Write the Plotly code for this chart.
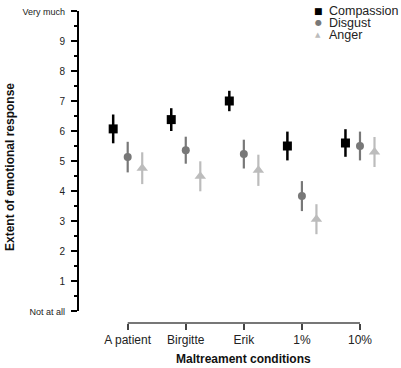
import plotly.graph_objects as go

categories = ["A patient", "Birgitte", "Erik", "1%", "10%"]
series_names = ["Compassion", "Disgust", "Anger"]
compassion = [6.07, 6.38, 7.00, 5.50, 5.60]
compassion_err = [0.48, 0.38, 0.34, 0.48, 0.46]
disgust = [5.13, 5.36, 5.23, 3.83, 5.50]
disgust_err = [0.51, 0.45, 0.48, 0.50, 0.48]
anger = [4.76, 4.49, 4.69, 3.06, 5.30]
anger_err = [0.53, 0.50, 0.52, 0.50, 0.50]
y_tickvals = [0, 1, 2, 3, 4, 5, 6, 7, 8, 9, 10]
y_ticktext = ['<span style="font-size:9px">Not at all</span>', "1", "2", "3", "4", "5",
              "6", "7", "8", "9", '<span style="font-size:9px">Very much</span>']

W, H = 401, 368
ML, MR, MT, MB = 78, 6, 8, 45
PW, PH = W - ML - MR, H - MT - MB

values = [compassion, disgust, anger]
errors = [compassion_err, disgust_err, anger_err]
colors = ["#000000", "#787878", "#bcbcbc"]
symbols = ["square", "circle", "triangle-up"]
sizes = [9, 8, 10]
thick = [2.5, 2.2, 2.2]
offsets = [-0.25, 0.0, 0.25]

fig = go.Figure()
for i in range(3):
    fig.add_trace(go.Scatter(
        x=[k + offsets[i] for k in range(len(categories))],
        y=values[i],
        mode="markers",
        name=series_names[i],
        marker=dict(symbol=symbols[i], size=sizes[i], color=colors[i], line=dict(width=0)),
        error_y=dict(type="data", array=errors[i], color=colors[i], thickness=thick[i], width=0),
        showlegend=False,
    ))

font_family = "Liberation Sans, Arial, sans-serif"

def px_x(p):
    return (p - ML) / PW

def px_y(p):
    return 1 - (p - MT) / PH

annotations = []
# custom legend
leg_sym = ["■", "●", "▲"]
leg_sym_size = [9, 8, 7]
leg_y = [8, 20, 32]
for i in range(3):
    annotations.append(dict(x=px_x(318), y=px_y(leg_y[i]), xref="paper", yref="paper",
                            text=leg_sym[i], showarrow=False, xanchor="center", yanchor="middle",
                            font=dict(size=leg_sym_size[i], color=colors[i], family="DejaVu Sans")))
    annotations.append(dict(x=px_x(327), y=px_y(leg_y[i]), xref="paper", yref="paper",
                            text=series_names[i], showarrow=False, xanchor="left", yanchor="middle",
                            font=dict(size=12.5, color="#222222", family=font_family)))
# axis titles
annotations.append(dict(x=px_x(10), y=0.5, xref="paper", yref="paper",
                        text="<b>Extent of emotional response</b>", textangle=-90, showarrow=False,
                        xanchor="center", yanchor="middle",
                        font=dict(size=12, color="#111111", family=font_family)))
annotations.append(dict(x=2, y=px_y(359), xref="x", yref="paper",
                        text="<b>Maltreament conditions</b>", showarrow=False,
                        xanchor="center", yanchor="middle",
                        font=dict(size=12, color="#111111", family=font_family)))

shapes = [
    dict(type="line", xref="paper", yref="y", x0=0, x1=0, y0=0, y1=10,
         line=dict(color="#000000", width=2)),
    dict(type="line", xref="x", yref="paper", x0=0, x1=len(categories) - 1, y0=0, y1=0,
         line=dict(color="#777777", width=2)),
]

x0 = -(127.7 - ML) / 58.07
fig.update_layout(
    width=W, height=H,
    margin=dict(l=ML, r=MR, t=MT, b=MB),
    paper_bgcolor="white", plot_bgcolor="white",
    font=dict(family=font_family, color="#222222"),
    showlegend=False,
    annotations=annotations,
    shapes=shapes,
    xaxis=dict(range=[x0, x0 + PW / 58.07], tickvals=list(range(len(categories))),
               ticktext=categories, showgrid=False, zeroline=False, showline=False,
               ticks="outside", ticklen=6, tickwidth=1.5, tickcolor="#444444",
               tickfont=dict(size=12, color="#222222")),
    yaxis=dict(range=[-0.4, 10], tickvals=y_tickvals, ticktext=y_ticktext,
               showgrid=False, zeroline=False, showline=False,
               ticks="outside", ticklen=6, tickwidth=1.5, tickcolor="#000000",
               ticklabelstandoff=4,
               tickfont=dict(size=10, color="#222222"),
               minor=dict(tickvals=[v + 0.5 for v in range(10)], ticks="outside",
                          ticklen=3.5, tickwidth=1.5, tickcolor="#000000")),
)

fig.write_html("out.html", config={"displayModeBar": False},
               post_script="document.body.style.margin='0';document.body.style.overflow='hidden';")
